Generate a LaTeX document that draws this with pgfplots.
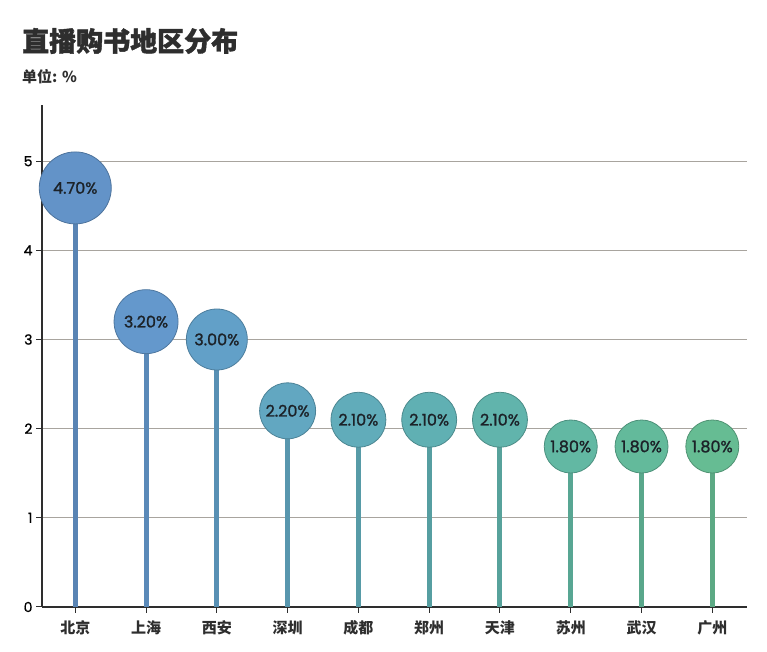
\documentclass[border=0pt]{standalone}
\usepackage{pgfplots}
\pgfplotsset{compat=1.18}
\usepackage{fontspec}
\setmainfont{Poppins}
\newfontfamily\cjk{Noto Sans CJK SC}
\pgfkeys{/pgf/number format/assume math mode=true}

\definecolor{cA}{HTML}{6393C8}
\definecolor{cB}{HTML}{6498CC}
\definecolor{cC}{HTML}{62A0C8}
\definecolor{cD}{HTML}{62A7C1}
\definecolor{cE}{HTML}{61ACBA}
\definecolor{cF}{HTML}{60B0B3}
\definecolor{cG}{HTML}{61B4AC}
\definecolor{cH}{HTML}{62B8A3}
\definecolor{cI}{HTML}{63BA9B}
\definecolor{cJ}{HTML}{66BC93}
\definecolor{gridc}{HTML}{A8A49E}
\definecolor{axisc}{HTML}{2E2E2E}
\definecolor{txt}{HTML}{1C2228}

% one lollipop: x, value, radius, colour
\newcommand{\lolli}[4]{%
  \addplot[ycomb, line width=5pt, color=#4!90!black, forget plot] coordinates {(#1,#2)};
  \addplot[only marks, mark=*, mark size=#3,
    mark options={fill=#4, draw=#4!78!black, line width=0.8pt},
    point meta=y, nodes near coords={\pgfmathprintnumber[fixed,fixed zerofill,precision=2]{\pgfplotspointmeta}\%},
    every node near coord/.append style={anchor=center, font=\fontsize{16}{16}\selectfont\addfontfeatures{FakeBold=1.3}, text=txt}]
    coordinates {(#1,#2)};
}

\begin{document}
\begin{tikzpicture}
\useasboundingbox (-42pt,-45pt) rectangle (725pt,607pt);
\begin{axis}[
    at={(0,0)}, anchor=south west,
    scale only axis,
    width=705pt, height=502pt,
    xmin=-0.47, xmax=9.49,
    ymin=0, ymax=5.63,
    axis x line*=bottom,
    axis y line*=left,
    axis line style={-, line width=1.2pt, axisc},
    xtick={0,...,9},
    xticklabels={北京,上海,西安,深圳,成都,郑州,天津,苏州,武汉,广州},
    ytick={0,1,2,3,4,5},
    ymajorgrids,
    grid style={gridc, line width=1pt},
    tick align=outside,
    major tick length=6pt,
    tick style={axisc, line width=1pt},
    x tick label style={font=\cjk\bfseries\fontsize{15}{15}\selectfont, text=axisc, yshift=-4pt},
    y tick label style={font=\fontsize{14}{14}\selectfont\addfontfeatures{FakeBold=1}, text=black},
    /pgf/number format/assume math mode=true,
    clip=false,
]
\lolli{0}{4.7}{36}{cA}
\lolli{1}{3.2}{32}{cB}
\lolli{2}{3.0}{30.5}{cC}
\lolli{3}{2.2}{28}{cD}
\lolli{4}{2.1}{27.5}{cE}
\lolli{5}{2.1}{27.5}{cF}
\lolli{6}{2.1}{27.5}{cG}
\lolli{7}{1.8}{26.5}{cH}
\lolli{8}{1.8}{26.5}{cI}
\lolli{9}{1.8}{26.5}{cJ}
\end{axis}
\node[anchor=west, inner sep=0pt, text=axisc, font=\cjk\bfseries\fontsize{27}{27}\selectfont\addfontfeatures{FakeBold=1.5}] at (-20pt,566pt) {直播购书地区分布};
\node[anchor=west, inner sep=0pt, text=axisc, font=\cjk\bfseries\fontsize{15}{15}\selectfont] at (-20pt,530pt) {单位: \%};
\end{tikzpicture}
\end{document}
